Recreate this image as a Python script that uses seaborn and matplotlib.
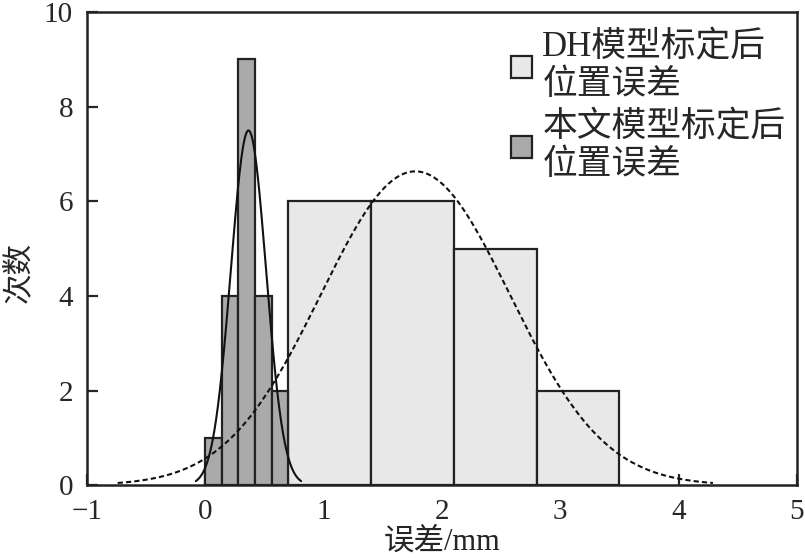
import numpy as np
import pandas as pd
import matplotlib
matplotlib.use('Agg')
import matplotlib.pyplot as plt
import seaborn as sns

# histogram data
dh_edges = [0.7, 1.4, 2.1, 2.8, 3.5]
dh_counts = [6, 6, 5, 2]
our_edges = [0.0, 0.14, 0.28, 0.42, 0.56, 0.70]
our_counts = [1, 4, 9, 4, 2]

# fitted normal curves (mean, sigma, plotted range)
dh_mu, dh_sigma, dh_range = 1.775, 0.80, (-0.74, 4.29)
our_mu, our_sigma, our_range = 0.365, 0.149, (-0.08, 0.81)

x_ticks = [-1, 0, 1, 2, 3, 4, 5]
y_ticks = [0, 2, 4, 6, 8, 10]

sns.set_style('ticks')
plt.rcParams['font.family'] = ['Liberation Serif', 'Noto Sans CJK SC']
plt.rcParams['axes.unicode_minus'] = False

fig = plt.figure(figsize=(8.05, 5.59), dpi=100)
ax = fig.add_axes([0.108, 0.132, 0.882, 0.8465])

def centers(edges):
    e = np.array(edges)
    return (e[:-1] + e[1:]) / 2

def normal_curve(mu, sigma, rng, n, bw):
    xs = np.linspace(rng[0], rng[1], 300)
    ys = n * bw / (sigma * np.sqrt(2 * np.pi)) * np.exp(-(xs - mu) ** 2 / (2 * sigma ** 2))
    return pd.DataFrame({'x': xs, 'y': ys})

sns.histplot(x=centers(dh_edges), weights=dh_counts, bins=dh_edges, ax=ax,
             color='#e8e8e8', edgecolor='#222222', linewidth=1.6, alpha=1,
             label='DH模型标定后\n位置误差')
sns.histplot(x=centers(our_edges), weights=our_counts, bins=our_edges, ax=ax,
             color='#aaaaaa', edgecolor='#222222', linewidth=1.6, alpha=1,
             label='本文模型标定后\n位置误差')

dh_fit = normal_curve(dh_mu, dh_sigma, dh_range, sum(dh_counts), 0.7)
our_fit = normal_curve(our_mu, our_sigma, our_range, sum(our_counts), 0.14)
sns.lineplot(data=dh_fit, x='x', y='y', ax=ax, color='#111111', linestyle=(0, (2.5, 1.5)), linewidth=1.5)
sns.lineplot(data=our_fit, x='x', y='y', ax=ax, color='#111111', linewidth=1.5)

ax.set_xlim(-1, 5)
ax.set_ylim(0, 10)
ax.set_xticks(x_ticks)
ax.set_yticks(y_ticks)
ax.set_xticklabels(['\u22121' if t < 0 else str(t) for t in x_ticks])
ax.tick_params(direction='in', length=8, width=1.6, labelsize=21)
ax.tick_params(axis='x', pad=10)
ax.tick_params(axis='y', pad=10)
for s in ax.spines.values():
    s.set_linewidth(1.8)
    s.set_color('#222222')
ax.set_xlabel('误差/mm', fontsize=22, va='center')
ax.xaxis.set_label_coords(0.5, -0.12)
ax.set_ylabel('次数', fontsize=22, va='center')
ax.yaxis.set_label_coords(-0.095, 0.45)

leg = ax.legend(loc='upper right', bbox_to_anchor=(1.011, 1.0), frameon=False, fontsize=25,
                handlelength=0.6, handleheight=0.6, handletextpad=0.3, labelspacing=0.25,
                borderaxespad=0.15)

fig.savefig('out.png', dpi=100)
